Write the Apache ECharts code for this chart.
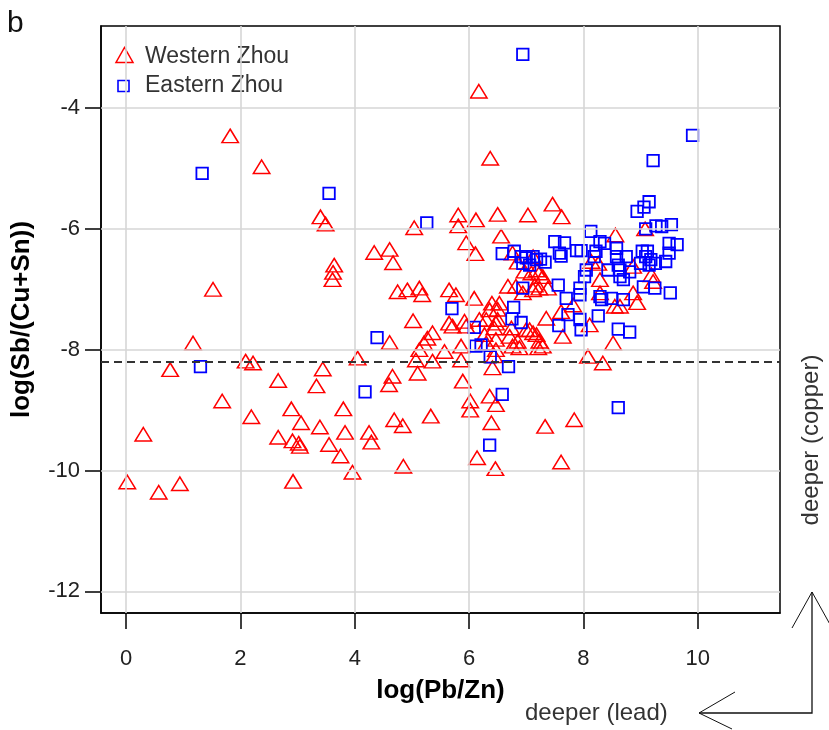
<!DOCTYPE html>
<html>
<head>
<meta charset="utf-8">
<script src="https://cdn.jsdelivr.net/npm/echarts@6/dist/echarts.min.js"></script>
<style>
  html, body { margin: 0; padding: 0; background: #fff; }
  #chart { width: 829px; height: 730px; }
</style>
</head>
<body>
<div id="chart"></div>
<script>
// log(Pb/Zn) vs log(Sb/(Cu+Sn)) for Western and Eastern Zhou bronzes
const FONT = "'Liberation Sans', Arial, Helvetica, sans-serif";

const xTicks = [0, 2, 4, 6, 8, 10];
const yTicks = [-12, -10, -8, -6, -4];
const xRange = [-0.44, 11.44];
const yRange = [-12.36, -2.64];
const thresholdY = -8.2;

const westernZhou = [
  [1.82,-4.46],[2.37,-4.97],[3.40,-5.80],[3.49,-5.92],[3.64,-6.60],[3.62,-6.72],[3.61,-6.84],
  [1.52,-7.00],[1.17,-7.89],[0.77,-8.33],[2.09,-8.19],[2.22,-8.22],[2.66,-8.51],[3.44,-8.32],
  [3.33,-8.60],[1.68,-8.85],[2.19,-9.11],[2.89,-8.98],[3.06,-9.21],[2.66,-9.45],[2.91,-9.51],
  [3.02,-9.55],[3.04,-9.60],[3.39,-9.28],[3.80,-8.98],[3.83,-9.37],[3.55,-9.57],[3.75,-9.76],
  [3.96,-10.03],[0.30,-9.40],[0.02,-10.19],[0.57,-10.36],[0.94,-10.22],[2.92,-10.18],[4.05,-8.14],
  [5.04,-5.98],[5.81,-5.77],[5.81,-5.95],[6.12,-5.85],[6.50,-5.76],[7.03,-5.77],[6.56,-6.12],
  [5.95,-6.23],[6.11,-6.41],[4.34,-6.39],[4.61,-6.34],[4.67,-6.56],[4.75,-7.04],[4.92,-7.01],
  [5.13,-6.98],[5.18,-7.09],[5.65,-7.01],[5.77,-7.09],[6.09,-7.15],[5.02,-7.52],[4.61,-7.88],
  [6.40,-7.23],[6.50,-7.33],[6.68,-6.95],[6.30,-7.50],[6.47,-7.56],[5.65,-7.56],[5.71,-7.61],
  [5.36,-7.72],[5.27,-7.81],[5.92,-7.53],[5.21,-7.89],[5.13,-8.00],[5.57,-8.03],[5.36,-8.19],
  [5.07,-8.17],[5.10,-8.39],[5.86,-7.94],[5.86,-8.17],[5.89,-8.52],[4.66,-8.44],[4.60,-8.58],
  [5.33,-9.10],[4.69,-9.16],[4.84,-9.26],[4.25,-9.37],[4.29,-9.53],[4.85,-9.93],[6.02,-8.85],
  [6.02,-9.00],[6.36,-8.77],[6.47,-8.91],[6.39,-9.21],[6.14,-9.79],[6.46,-9.97],[6.47,-7.83],
  [6.71,-7.78],[6.76,-7.94],[6.30,-7.89],[6.47,-8.00],[6.41,-8.30],[7.00,-7.67],[7.12,-7.72],
  [5.95,-7.61],[6.18,-7.50],[6.27,-7.75],[8.34,-8.22],[7.84,-9.16],[7.33,-9.27],[7.61,-9.86],
  [8.08,-8.11],[6.17,-3.72],[6.37,-4.83],[7.46,-5.59],[7.62,-5.80],[9.08,-6.00],[8.56,-6.10],
  [6.53,-7.23],[6.36,-7.34],[6.82,-6.95],[6.97,-6.70],[7.09,-6.73],[7.23,-6.73],[7.29,-6.79],
  [7.15,-6.93],[7.23,-6.98],[6.50,-7.50],[6.44,-7.64],[6.74,-7.64],[7.06,-7.67],[7.18,-7.75],
  [7.35,-7.48],[7.64,-7.78],[6.85,-7.86],[6.88,-7.97],[7.23,-7.86],[7.21,-7.97],[7.29,-7.94],
  [6.44,-8.10],[7.61,-7.37],[7.82,-7.26],[8.11,-7.59],[8.52,-7.89],[8.87,-7.06],[8.29,-7.06],
  [8.64,-7.28],[8.55,-7.28],[8.29,-6.84],[8.14,-6.54],[8.26,-6.57],[7.12,-6.46],[7.18,-6.68],
  [7.38,-6.98],[6.94,-7.06],[7.12,-7.01],[9.19,-6.76],[9.22,-6.87],[8.87,-6.62],[6.76,-6.40],
  [6.85,-6.55],[8.94,-7.22]
];

const easternZhou = [
  [1.33,-5.08],[3.55,-5.41],[1.30,-8.28],[5.26,-5.90],[4.39,-7.80],[4.18,-8.70],[5.70,-7.32],
  [6.58,-6.41],[6.79,-6.37],[6.91,-6.46],[7.00,-6.48],[7.12,-6.46],[7.18,-6.51],[7.25,-6.50],
  [7.33,-6.55],[6.94,-6.57],[7.06,-6.60],[6.94,-6.98],[6.78,-7.30],[6.75,-7.49],[6.91,-7.55],
  [6.09,-7.63],[6.12,-7.94],[6.21,-7.92],[6.37,-8.12],[6.69,-8.28],[6.58,-8.74],[6.36,-9.58],
  [8.61,-8.96],[6.94,-3.11],[9.91,-4.45],[9.22,-4.87],[9.15,-5.55],[9.06,-5.64],[8.94,-5.71],
  [9.27,-5.95],[9.37,-5.96],[9.54,-5.93],[9.09,-6.00],[8.13,-6.04],[7.50,-6.21],[7.67,-6.23],
  [7.88,-6.36],[7.96,-6.36],[7.58,-6.40],[7.61,-6.45],[8.29,-6.21],[8.37,-6.24],[8.22,-6.37],
  [8.19,-6.46],[8.58,-6.32],[8.58,-6.46],[8.75,-6.46],[8.61,-6.60],[8.64,-6.68],[8.81,-6.71],
  [9.03,-6.37],[9.12,-6.37],[9.09,-6.46],[9.18,-6.51],[9.00,-6.57],[9.15,-6.60],[9.26,-6.57],
  [9.44,-6.54],[9.50,-6.40],[9.50,-6.24],[9.64,-6.26],[8.05,-6.68],[8.02,-6.79],[8.43,-6.68],
  [8.64,-6.79],[8.70,-6.84],[7.56,-6.93],[7.94,-6.98],[9.05,-6.96],[9.25,-6.98],[9.52,-7.06],
  [7.70,-7.15],[7.94,-7.09],[8.29,-7.12],[8.49,-7.15],[8.70,-7.17],[8.32,-7.17],[7.73,-7.42],
  [7.94,-7.50],[8.26,-7.44],[7.57,-7.60],[7.96,-7.67],[8.61,-7.66],[8.81,-7.71]
];

const chart = echarts.init(document.getElementById('chart'), null, { renderer: 'canvas' });

const tickLabel = { fontFamily: FONT, fontSize: 22, color: '#222' };
const gridLine = { color: '#d6d6d6', width: 1.6, type: 'solid' };
const blackLine = { color: '#000', width: 1.5 };

chart.setOption({
  animation: false,
  backgroundColor: '#fff',
  grid: {
    left: 101, top: 26, width: 679, height: 587,
    show: true, borderColor: '#000', borderWidth: 1.5, backgroundColor: 'transparent'
  },
  xAxis: {
    type: 'value', min: xRange[0], max: xRange[1],
    name: 'log(Pb/Zn)', nameLocation: 'middle', nameGap: 65,
    nameTextStyle: { fontFamily: FONT, fontSize: 26, fontWeight: 'bold', color: '#000' },
    axisLine: { show: true, onZero: false, lineStyle: blackLine },
    axisTick: { show: true, customValues: xTicks, length: 16, inside: false, lineStyle: blackLine },
    axisLabel: Object.assign({ customValues: xTicks, margin: 35 }, tickLabel),
    splitLine: { show: false }
  },
  yAxis: {
    type: 'value', min: yRange[0], max: yRange[1],
    name: 'log(Sb/(Cu+Sn))', nameLocation: 'middle', nameGap: 66,
    nameTextStyle: { fontFamily: FONT, fontSize: 26, fontWeight: 'bold', color: '#000' },
    axisLine: { show: true, onZero: false, lineStyle: blackLine },
    axisTick: { show: true, customValues: yTicks, length: 16, inside: false, lineStyle: blackLine },
    axisLabel: Object.assign({ customValues: yTicks, margin: 21 }, tickLabel),
    splitLine: { show: false }
  },
  series: [
    {
      // reference grid and the threshold line
      type: 'scatter', data: [], z: 1, silent: true,
      markLine: {
        silent: true, symbol: 'none', animation: false,
        label: { show: false },
        lineStyle: gridLine,
        data: xTicks.map(v => ({ xAxis: v }))
          .concat(yTicks.map(v => ({ yAxis: v })))
          .concat([{ yAxis: thresholdY, lineStyle: { color: '#333', width: 2, type: [8, 5] } }])
      }
    },
    {
      name: 'Western Zhou', type: 'scatter', data: westernZhou, z: 3,
      symbol: 'triangle', symbolSize: [16.5, 13.5],
      itemStyle: { color: 'rgba(0,0,0,0)', borderColor: '#ff0000', borderWidth: 1.5, opacity: 1 },
      emphasis: { disabled: true }
    },
    {
      name: 'Eastern Zhou', type: 'scatter', data: easternZhou, z: 4,
      symbol: 'rect', symbolSize: 11.5,
      itemStyle: { color: 'rgba(0,0,0,0)', borderColor: '#0000ff', borderWidth: 1.8, opacity: 1 },
      emphasis: { disabled: true }
    }
  ],
  graphic: [
    { type: 'text', left: 7, top: 9,
      style: { text: 'b', font: '30px ' + FONT, fill: '#111' } },
    // legend
    { type: 'polygon', shape: { points: [[116, 62.5], [133, 62.5], [124.5, 47.5]] },
      style: { fill: 'none', stroke: '#ff0000', lineWidth: 1.5 } },
    { type: 'text', x: 145, y: 57,
      style: { text: 'Western Zhou', font: '23px ' + FONT, fill: '#333', textVerticalAlign: 'middle' } },
    { type: 'rect', shape: { x: 118, y: 80.5, width: 11, height: 11 },
      style: { fill: 'none', stroke: '#0000ff', lineWidth: 1.6 } },
    { type: 'text', x: 145, y: 86,
      style: { text: 'Eastern Zhou', font: '23px ' + FONT, fill: '#333', textVerticalAlign: 'middle' } },
    // direction arrows
    { type: 'polyline', shape: { points: [[812, 592], [812, 713], [699, 713]] },
      style: { stroke: '#111', lineWidth: 1.3, fill: 'none' } },
    { type: 'polyline', shape: { points: [[792, 628], [812, 592], [832, 628]] },
      style: { stroke: '#111', lineWidth: 1, fill: 'none' } },
    { type: 'polyline', shape: { points: [[735, 692], [699, 713], [732, 729]] },
      style: { stroke: '#111', lineWidth: 1, fill: 'none' } },
    { type: 'text', x: 525, y: 713,
      style: { text: 'deeper (lead)', font: '24px ' + FONT, fill: '#333', textVerticalAlign: 'middle' } },
    { type: 'text', x: 811, y: 440, rotation: Math.PI / 2,
      style: { text: 'deeper (copper)', font: '24px ' + FONT, fill: '#333',
               textAlign: 'center', textVerticalAlign: 'middle' } }
  ]
});
</script>
</body>
</html>
